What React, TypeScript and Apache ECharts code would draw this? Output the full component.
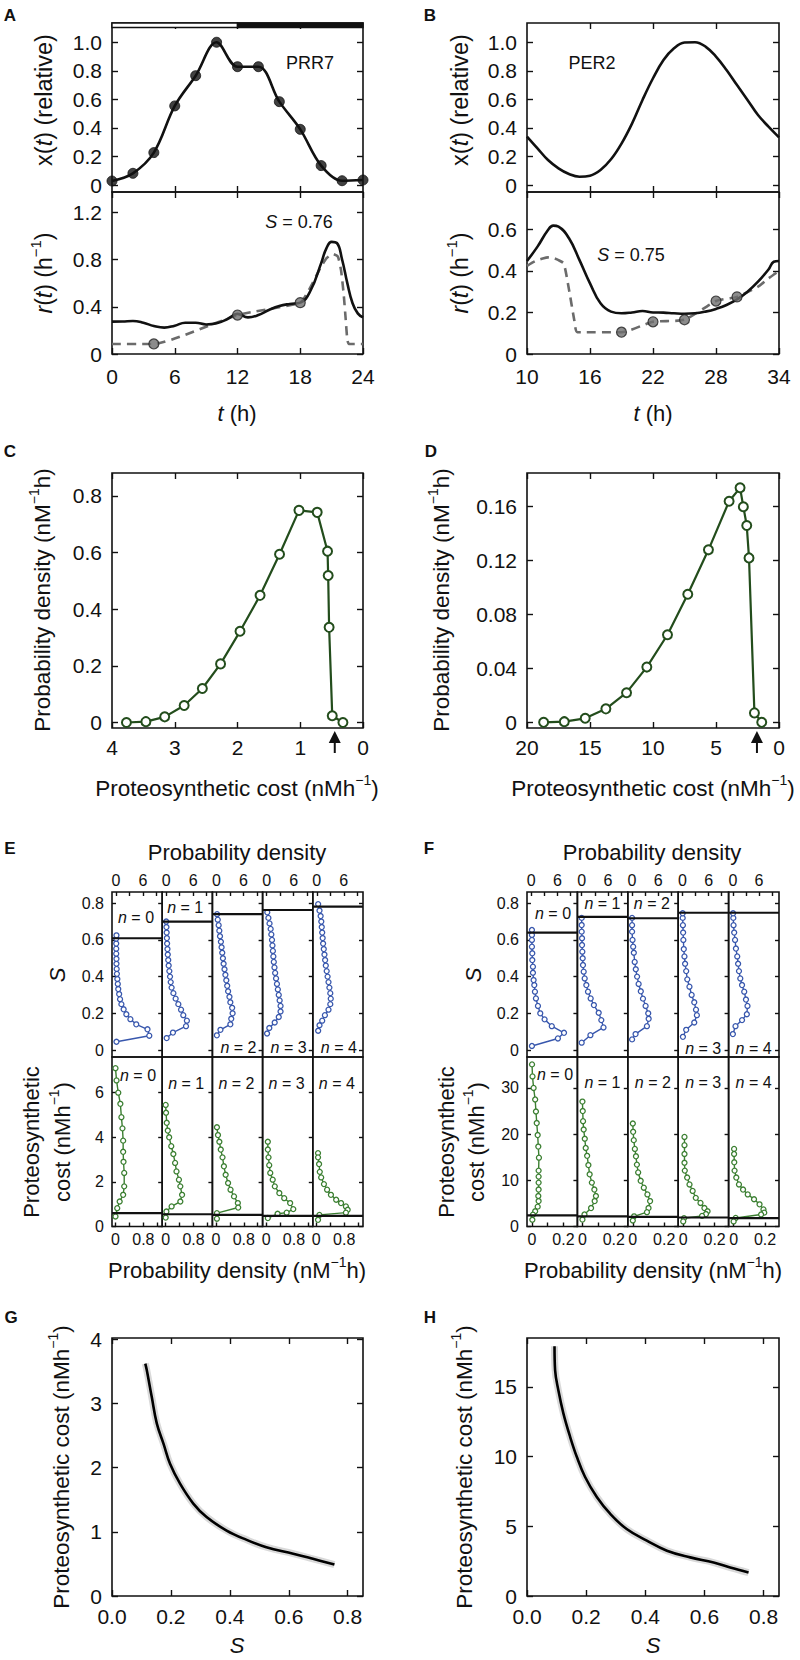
import React, { useEffect, useRef } from "react";
import * as echarts from "echarts";

const FONT = "'Liberation Sans', Arial, Helvetica, sans-serif";

// ---------------- Panel A : PRR7 ----------------
const prr7Hours = [0, 2, 4, 6, 8, 10, 12, 14, 16, 18, 20, 22, 24];
const prr7Level = [0.028, 0.082, 0.227, 0.554, 0.766, 1.0, 0.829, 0.829, 0.584, 0.39, 0.136, 0.03, 0.035];
const prr7RateHours = [0, 1, 2, 3, 4, 5, 6, 7, 8, 9, 10, 11, 12, 13, 14, 15, 16, 17, 18, 19, 20, 20.5, 21, 21.5, 22, 22.5, 23, 23.5, 24];
const prr7Rate = [0.274, 0.275, 0.28, 0.265, 0.237, 0.223, 0.24, 0.265, 0.265, 0.25, 0.26, 0.294, 0.34, 0.31, 0.33, 0.373, 0.407, 0.424, 0.435, 0.54, 0.77, 0.895, 0.95, 0.94, 0.8, 0.6, 0.43, 0.344, 0.31];
const prr7ApproxHours = [0, 4, 12, 18, 19, 19.9, 20.5, 21.1, 21.6, 21.9, 22.15, 22.35, 22.5, 22.65, 24];
const prr7Approx = [0.085, 0.085, 0.33, 0.435, 0.57, 0.726, 0.81, 0.847, 0.825, 0.71, 0.51, 0.29, 0.12, 0.085, 0.085];
const prr7NodeHours = [4, 12, 18];
const prr7NodeRate = [0.085, 0.33, 0.435];
const lightDark = [
  { from: 0, to: 12, dark: false },
  { from: 12, to: 24, dark: true },
];

// ---------------- Panel B : PER2 ----------------
const per2Hours = [10, 11, 12, 13, 14, 15, 16, 17, 18, 19, 20, 21, 22, 23, 24, 25, 26, 27, 28, 29, 30, 31, 32, 33, 34];
const per2Level = [0.339, 0.257, 0.175, 0.117, 0.077, 0.058, 0.065, 0.105, 0.18, 0.29, 0.43, 0.596, 0.748, 0.876, 0.958, 0.998, 1.0, 0.97, 0.9, 0.806, 0.7, 0.596, 0.49, 0.409, 0.334];
const per2RateHours = [10, 11, 12, 12.5, 13, 14, 15, 16, 17, 18, 19, 20, 21, 22, 23, 24, 25, 26, 27, 28, 29, 30, 31, 32, 33, 33.5, 34];
const per2Rate = [0.448, 0.517, 0.597, 0.618, 0.613, 0.557, 0.452, 0.34, 0.244, 0.204, 0.196, 0.2, 0.207, 0.2, 0.199, 0.196, 0.194, 0.196, 0.204, 0.217, 0.236, 0.263, 0.3, 0.348, 0.407, 0.444, 0.448];
const per2ApproxHours = [10, 10.5, 11, 11.5, 12, 12.5, 13, 13.5, 14, 14.5, 14.8, 19, 22, 25, 28, 30, 32, 33, 34];
const per2Approx = [0.424, 0.44, 0.452, 0.46, 0.465, 0.462, 0.452, 0.436, 0.31, 0.164, 0.105, 0.105, 0.155, 0.165, 0.255, 0.275, 0.324, 0.364, 0.4];
const per2NodeHours = [19, 22, 25, 28, 30];
const per2NodeRate = [0.105, 0.155, 0.165, 0.255, 0.275];

// ---------------- Panels C, D : cost distributions ----------------
const prr7Cost = [3.77, 3.46, 3.16, 2.85, 2.56, 2.27, 1.96, 1.64, 1.33, 1.02, 0.73, 0.565, 0.555, 0.54, 0.49, 0.32];
const prr7CostDensity = [0, 0.003, 0.02, 0.06, 0.12, 0.207, 0.322, 0.449, 0.594, 0.749, 0.742, 0.605, 0.519, 0.336, 0.024, 0];
const prr7OptimalCost = 0.45;
const per2Cost = [18.68, 17.04, 15.38, 13.74, 12.1, 10.49, 8.85, 7.24, 5.6, 3.96, 3.09, 2.83, 2.56, 2.38, 1.95, 1.37];
const per2CostDensity = [0, 0.0005, 0.003, 0.01, 0.022, 0.041, 0.065, 0.095, 0.128, 0.164, 0.174, 0.16, 0.146, 0.122, 0.007, 0];
const per2OptimalCost = 1.75;

// ---------------- Panel E : PRR7, n = 0..4 ([S, density]) ----------------
const eTopN0 = [[0.045, 0.1], [0.078, 7.4], [0.113, 7.0], [0.14, 4.5], [0.168, 3.2], [0.195, 2.3], [0.222, 1.7], [0.25, 1.2], [0.277, 0.9], [0.305, 0.7], [0.332, 0.5], [0.36, 0.4], [0.387, 0.3], [0.415, 0.2], [0.442, 0.15], [0.47, 0.1], [0.497, 0.1], [0.525, 0.05], [0.552, 0.05], [0.58, 0.05], [0.607, 0.05], [0.625, 0.1]];
const eTopN1 = [[0.065, 0.1], [0.095, 1.5], [0.13, 4.4], [0.16, 4.6], [0.19, 3.8], [0.22, 3.3], [0.25, 2.7], [0.28, 2.1], [0.31, 1.6], [0.34, 1.2], [0.37, 1.0], [0.4, 0.85], [0.43, 0.7], [0.46, 0.55], [0.49, 0.45], [0.52, 0.35], [0.55, 0.28], [0.58, 0.2], [0.61, 0.15], [0.64, 0.1], [0.67, 0.05], [0.7, 0.0]];
const eTopN2 = [[0.08, 0.1], [0.11, 0.9], [0.14, 3.1], [0.17, 3.3], [0.2, 3.6], [0.23, 3.5], [0.26, 3.1], [0.29, 2.9], [0.32, 2.6], [0.35, 2.4], [0.38, 2.2], [0.41, 2.0], [0.44, 1.8], [0.47, 1.6], [0.5, 1.45], [0.53, 1.3], [0.56, 1.15], [0.59, 1.0], [0.62, 0.8], [0.65, 0.65], [0.68, 0.5], [0.71, 0.3], [0.74, 0.15]];
const eTopN3 = [[0.09, 0.1], [0.12, 0.6], [0.15, 1.8], [0.18, 2.7], [0.21, 3.1], [0.24, 3.1], [0.27, 2.9], [0.3, 2.7], [0.33, 2.5], [0.36, 2.3], [0.39, 2.1], [0.42, 1.9], [0.45, 1.75], [0.48, 1.6], [0.51, 1.5], [0.54, 1.4], [0.57, 1.3], [0.6, 1.2], [0.63, 1.05], [0.66, 0.9], [0.69, 0.65], [0.72, 0.4], [0.75, 0.15]];
const eTopN4 = [[0.105, 0.3], [0.135, 0.6], [0.16, 1.2], [0.19, 1.8], [0.22, 2.6], [0.25, 3.0], [0.28, 3.1], [0.31, 3.0], [0.34, 2.8], [0.37, 2.6], [0.4, 2.4], [0.43, 2.2], [0.46, 2.0], [0.49, 1.85], [0.52, 1.7], [0.55, 1.55], [0.58, 1.4], [0.61, 1.3], [0.64, 1.2], [0.67, 1.1], [0.7, 1.0], [0.73, 0.85], [0.76, 0.6], [0.795, 0.3]];
const eTopThreshold = [0.609, 0.7, 0.74, 0.763, 0.781];
// [cost, density]
const eBotN0 = [[7.1, 0], [6.55, 0.03], [6.0, 0.08], [5.5, 0.14], [4.9, 0.17], [4.4, 0.2], [3.85, 0.22], [3.35, 0.22], [2.9, 0.23], [2.4, 0.25], [1.8, 0.25], [1.42, 0.22], [1.12, 0.12], [0.82, 0.05], [0.45, 0.0]];
const eBotN1 = [[5.45, 0], [5.1, 0.01], [4.65, 0.03], [4.3, 0.06], [4.0, 0.1], [3.6, 0.16], [3.25, 0.22], [2.85, 0.27], [2.47, 0.31], [2.1, 0.38], [1.8, 0.42], [1.42, 0.47], [1.12, 0.42], [0.9, 0.17], [0.67, 0.02], [0.4, 0]];
const eBotN2 = [[4.45, 0.03], [4.1, 0.06], [3.8, 0.1], [3.45, 0.14], [3.1, 0.19], [2.7, 0.23], [2.32, 0.28], [1.95, 0.35], [1.65, 0.42], [1.35, 0.52], [1.05, 0.63], [0.85, 0.64], [0.6, 0.03], [0.35, 0.03]];
const eBotN3 = [[3.8, 0.05], [3.45, 0.05], [3.1, 0.07], [2.75, 0.09], [2.4, 0.12], [2.1, 0.19], [1.8, 0.25], [1.5, 0.38], [1.27, 0.52], [1.05, 0.69], [0.78, 0.78], [0.62, 0.59], [0.57, 0.33], [0.38, 0.05]];
const eBotN4 = [[3.29, 0.05], [3.1, 0.05], [2.8, 0.08], [2.45, 0.1], [2.2, 0.14], [1.9, 0.22], [1.65, 0.31], [1.42, 0.42], [1.2, 0.57], [1.05, 0.71], [0.9, 0.85], [0.75, 0.9], [0.62, 0.85], [0.52, 0.09], [0.3, 0.05]];
const eBotThreshold = [0.6, 0.55, 0.52, 0.48, 0.48];

// ---------------- Panel F : PER2, n = 0..4 ----------------
const fTopN0 = [[0.022, 0.15], [0.063, 6.1], [0.094, 7.5], [0.13, 4.7], [0.167, 3.05], [0.2, 2.06], [0.24, 1.53], [0.281, 1.07], [0.318, 0.84], [0.354, 0.69], [0.381, 0.53], [0.421, 0.38], [0.454, 0.38], [0.49, 0.23], [0.527, 0.23], [0.563, 0.15], [0.6, 0.15], [0.627, 0.15], [0.654, 0.15]];
const fTopN1 = [[0.04, 0], [0.081, 2.0], [0.123, 5.0], [0.163, 4.5], [0.203, 3.9], [0.245, 2.8], [0.281, 2.06], [0.318, 1.45], [0.354, 1.07], [0.39, 0.69], [0.427, 0.46], [0.463, 0.3], [0.5, 0.23], [0.536, 0.15], [0.572, 0.08], [0.609, 0.08], [0.645, 0.0], [0.681, 0.0], [0.72, 0.0]];
const fTopN2 = [[0.058, 0], [0.087, 0.8], [0.13, 3.4], [0.17, 3.8], [0.2, 3.7], [0.24, 3.1], [0.28, 2.5], [0.32, 2.0], [0.36, 1.5], [0.4, 1.15], [0.44, 0.85], [0.48, 0.6], [0.53, 0.4], [0.563, 0.25], [0.6, 0.1], [0.645, 0.0], [0.68, 0.0], [0.72, 0.0]];
const fTopN3 = [[0.072, 0.1], [0.11, 0.85], [0.15, 2.7], [0.19, 3.3], [0.22, 3.1], [0.26, 2.7], [0.3, 2.1], [0.345, 1.6], [0.385, 1.1], [0.43, 0.85], [0.47, 0.6], [0.51, 0.45], [0.55, 0.3], [0.6, 0.2], [0.64, 0.15], [0.68, 0.1], [0.72, 0.05], [0.745, 0.05]];
const fTopN4 = [[0.087, 0], [0.13, 0.6], [0.163, 2.1], [0.195, 3.2], [0.24, 3.35], [0.275, 3.0], [0.318, 2.6], [0.354, 2.1], [0.39, 1.7], [0.43, 1.4], [0.47, 1.2], [0.51, 1.0], [0.553, 0.7], [0.6, 0.5], [0.64, 0.3], [0.68, 0.15], [0.72, 0.1], [0.745, 0.05]];
const fTopThreshold = [0.64, 0.726, 0.718, 0.748, 0.748];
const fBotN0 = [[35.1, 0], [32.5, 0.003], [30, 0.01], [27.5, 0.02], [24.9, 0.025], [22.4, 0.03], [19.8, 0.036], [17.3, 0.04], [14.9, 0.044], [12.1, 0.042], [10.8, 0.042], [9.5, 0.042], [8.0, 0.042], [6.6, 0.04], [5.5, 0.042], [4.3, 0.036], [3.3, 0.02], [2.57, 0.006], [1.46, 0.002]];
const fBotN1 = [[27.05, 0], [25, 0.002], [22.8, 0.004], [21, 0.008], [19, 0.015], [17, 0.021], [15.3, 0.03], [13.3, 0.038], [11.3, 0.046], [9.5, 0.06], [8.0, 0.076], [6.6, 0.086], [5.5, 0.078], [4.0, 0.055], [2.6, 0.013], [1.5, 0]];
const fBotN2 = [[22.3, 0], [20.5, 0.002], [18.7, 0.006], [16.8, 0.013], [15.2, 0.02], [13.4, 0.026], [11.7, 0.034], [9.9, 0.05], [8.4, 0.07], [6.95, 0.093], [5.5, 0.11], [4.0, 0.1], [3.1, 0.09], [2.2, 0.008], [1.3, 0]];
const fBotN3 = [[19.4, 0.008], [17.6, 0.008], [15.7, 0.008], [13.8, 0.008], [12.1, 0.01], [10.6, 0.025], [9.1, 0.04], [7.7, 0.06], [6.2, 0.08], [5.1, 0.11], [4.0, 0.135], [3.3, 0.155], [2.7, 0.145], [2.3, 0.12], [1.8, 0.005], [1.1, 0]];
const fBotN4 = [[16.8, 0.003], [15.7, 0.003], [13.9, 0.004], [12.1, 0.006], [10.6, 0.017], [9.1, 0.034], [8.0, 0.06], [6.95, 0.09], [5.9, 0.13], [4.8, 0.165], [3.7, 0.19], [3.0, 0.195], [2.6, 0.175], [1.85, 0.013], [1.1, 0]];
const fBotThreshold = [2.4, 2.2, 2.1, 1.95, 1.8];

// ---------------- Panels G, H : cost vs S ----------------
const gS = [0.113, 0.118, 0.135, 0.152, 0.175, 0.197, 0.231, 0.276, 0.321, 0.389, 0.457, 0.524, 0.615, 0.682, 0.755];
const gCost = [3.62, 3.52, 3.1, 2.69, 2.37, 2.06, 1.75, 1.44, 1.23, 1.02, 0.875, 0.76, 0.66, 0.58, 0.49];
const hS = [0.093, 0.095, 0.106, 0.123, 0.146, 0.168, 0.196, 0.236, 0.281, 0.337, 0.405, 0.473, 0.552, 0.631, 0.687, 0.749];
const hCost = [17.9, 16.2, 14.75, 13.1, 11.4, 10.0, 8.55, 7.1, 5.9, 4.8, 3.97, 3.25, 2.77, 2.4, 2.04, 1.68];

// ---------------- helpers ----------------
const zip = (a: number[], b: number[]) => a.map((v, i) => [v, b[i]]);
const swap = (arr: number[][]) => arr.map(([a, b]) => [b, a]);
const fmtPlain = (v: number) => (Math.abs(v) < 1e-9 ? "0" : String(v));
const fmt1 = (v: number) => (Math.abs(v) < 1e-9 ? "0" : v.toFixed(1));
const fmt2 = (v: number) => (Math.abs(v) < 1e-9 ? "0" : v.toFixed(2));

const INK = "#111";
const BLUE = "#3857ad";
const GREEN_E = "#3b7f31";
const GREEN_C = "#234d1c";

type AxisCfg = {
  min: number; max: number; ticks: number[]; labels?: number[];
  fmt?: (v: number) => string; inverse?: boolean; size?: number; margin?: number;
  labelSide?: string; tickA?: boolean; tickB?: boolean; tickLen?: number;
};

function buildOption() {
  const grid: any[] = [];
  const xAxis: any[] = [];
  const yAxis: any[] = [];
  const series: any[] = [];

  const mkAxis = (g: number, position: string, c: AxisCfg, showLabel: boolean, showTick: boolean) => ({
    type: "value", gridIndex: g, position, min: c.min, max: c.max, inverse: !!c.inverse,
    axisLine: { show: false, onZero: false }, splitLine: { show: false }, axisPointer: { show: false },
    axisTick: { show: showTick && c.ticks.length > 0, inside: true, length: c.tickLen ?? 6, customValues: c.ticks, lineStyle: { color: INK, width: 1.4 } },
    axisLabel: { show: showLabel, customValues: c.labels ?? c.ticks, formatter: c.fmt ?? fmtPlain, fontSize: c.size ?? 21, fontFamily: FONT, color: INK, margin: c.margin ?? 10 },
  });

  const panel = (rect: number[], xc: AxisCfg, yc: AxisCfg) => {
    const g = grid.length;
    grid.push({ left: rect[0], top: rect[1], width: rect[2], height: rect[3], show: true, borderColor: INK, borderWidth: 1.6, backgroundColor: "rgba(0,0,0,0)", containLabel: false, outerBoundsMode: "none" });
    const xi = xAxis.length;
    xAxis.push(mkAxis(g, "bottom", xc, xc.labelSide === "bottom", xc.tickA !== false));
    xAxis.push(mkAxis(g, "top", xc, xc.labelSide === "top", xc.tickB !== false));
    const yi = yAxis.length;
    yAxis.push(mkAxis(g, "left", yc, yc.labelSide === "left", yc.tickA !== false));
    yAxis.push(mkAxis(g, "right", yc, false, yc.tickB !== false));
    return { g, xi, yi, xc, yc };
  };

  const line = (p: any, data: number[][], o: any = {}) =>
    series.push({
      type: "line", xAxisIndex: p.xi, yAxisIndex: p.yi, data, smooth: o.smooth ?? false,
      showSymbol: !!o.symbol, symbol: o.symbol ? "circle" : "none", symbolSize: o.symbolSize ?? 6,
      itemStyle: o.itemStyle, lineStyle: { color: o.color ?? INK, width: o.width ?? 2.4, type: o.dash ?? "solid" },
      z: o.z ?? 2, silent: true, animation: false,
    });
  const dots = (p: any, data: number[][], o: any) =>
    series.push({
      type: "scatter", xAxisIndex: p.xi, yAxisIndex: p.yi, data, symbol: "circle", symbolSize: o.size,
      itemStyle: { color: o.fill, borderColor: o.stroke, borderWidth: o.bw ?? 1 }, z: 5, silent: true, animation: false,
    });

  const topX = { min: -0.049, max: 1.135, ticks: [0, 0.2, 0.4, 0.6, 0.8, 1.0], labelSide: "left", fmt: fmt1 };
  // A
  const A1 = panel([112, 23, 251, 169], { min: 0, max: 24, ticks: [6, 12, 18] }, topX);
  const A2 = panel([112, 192, 251, 162], { min: 0, max: 24, ticks: [0, 6, 12, 18, 24], labelSide: "bottom", margin: 12 }, { min: 0, max: 1.372, ticks: [0, 0.4, 0.8, 1.2], labelSide: "left", fmt: fmt1 });
  line(A1, zip(prr7Hours, prr7Level), { smooth: 0.35, width: 2.6 });
  dots(A1, zip(prr7Hours, prr7Level), { size: 10, fill: INK, stroke: INK });
  line(A2, zip(prr7ApproxHours, prr7Approx), { color: "#6b6b6b", dash: [9, 6], width: 2.6, smooth: 0.15 });
  line(A2, zip(prr7RateHours, prr7Rate), { smooth: 0.45, width: 2.6, z: 3 });
  dots(A2, zip(prr7NodeHours, prr7NodeRate), { size: 10, fill: "#6f6f6f", stroke: "#222", bw: 1.2 });
  // B
  const B1 = panel([527, 23, 252, 169], { min: 10, max: 34, ticks: [16, 22, 28] }, topX);
  const B2 = panel([527, 192, 252, 162], { min: 10, max: 34, ticks: [10, 16, 22, 28, 34], labelSide: "bottom", margin: 12 }, { min: 0, max: 0.78, ticks: [0, 0.2, 0.4, 0.6], labelSide: "left", fmt: fmt1 });
  line(B1, zip(per2Hours, per2Level), { smooth: 0.4, width: 2.6 });
  line(B2, zip(per2ApproxHours, per2Approx), { color: "#6b6b6b", dash: [9, 6], width: 2.6, smooth: 0.2 });
  line(B2, zip(per2RateHours, per2Rate), { smooth: 0.45, width: 2.6, z: 3 });
  dots(B2, zip(per2NodeHours, per2NodeRate), { size: 10, fill: "#6f6f6f", stroke: "#222", bw: 1.2 });
  // C, D
  const C = panel([112, 473, 251, 255], { min: 0, max: 4, inverse: true, ticks: [0, 1, 2, 3, 4], labelSide: "bottom", margin: 9 }, { min: -0.0194, max: 0.881, ticks: [0, 0.2, 0.4, 0.6, 0.8], labelSide: "left", fmt: fmt1 });
  const D = panel([527, 473, 252, 255], { min: 0, max: 20, inverse: true, ticks: [0, 5, 10, 15, 20], labelSide: "bottom", margin: 9 }, { min: -0.0042, max: 0.185, ticks: [0, 0.04, 0.08, 0.12, 0.16], labelSide: "left", fmt: fmt2 });
  const openGreen = { color: "#fff", borderColor: GREEN_C, borderWidth: 2 };
  line(C, zip(prr7Cost, prr7CostDensity), { color: GREEN_C, width: 2.2, symbol: true, symbolSize: 9, itemStyle: openGreen });
  line(D, zip(per2Cost, per2CostDensity), { color: GREEN_C, width: 2.2, symbol: true, symbolSize: 9, itemStyle: openGreen });

  // E, F small multiples
  const smallSets = [
    { left0: 112, w: 50.2, top: [eTopN0, eTopN1, eTopN2, eTopN3, eTopN4], bot: [eBotN0, eBotN1, eBotN2, eBotN3, eBotN4], thrTop: eTopThreshold, thrBot: eBotThreshold,
      xTop: { min: -0.89, max: 10.27, ticks: [0, 3, 6, 9], labels: [0, 6] }, xBot: { min: -0.1, max: 1.34, ticks: [0, 0.4, 0.8, 1.2], labels: [0, 0.8] }, yBot: { min: 0, max: 7.6, ticks: [0, 2, 4, 6] } },
    { left0: 527, w: 50.4, top: [fTopN0, fTopN1, fTopN2, fTopN3, fTopN4], bot: [fBotN0, fBotN1, fBotN2, fBotN3, fBotN4], thrTop: fTopThreshold, thrBot: fBotThreshold,
      xTop: { min: -0.98, max: 10.57, ticks: [0, 3, 6, 9], labels: [0, 6] }, xBot: { min: -0.032, max: 0.289, ticks: [0, 0.1, 0.2], labels: [0, 0.2] }, yBot: { min: 0, max: 36.7, ticks: [0, 10, 20, 30] } },
  ];
  const smallRefs: any[] = [];
  smallSets.forEach((set) => {
    const refs: any = { top: [], bot: [] };
    for (let i = 0; i < 5; i++) {
      const left = set.left0 + i * set.w;
      const pt = panel([left, 892, set.w, 165],
        { ...set.xTop, labelSide: "top", size: 16, margin: 4, tickA: false, tickLen: 4 },
        { min: -0.038, max: 0.861, ticks: [0, 0.2, 0.4, 0.6, 0.8], labelSide: i === 0 ? "left" : "none", fmt: fmt1, size: 16, margin: 8, tickA: i === 0, tickLen: 4 });
      const pb = panel([left, 1057, set.w, 169.5],
        { ...set.xBot, labelSide: "bottom", size: 16, margin: 5, tickB: false, tickLen: 4 },
        { ...set.yBot, labelSide: i === 0 ? "left" : "none", size: 16, margin: 8, tickA: i === 0, tickLen: 4 });
      refs.top.push(pt); refs.bot.push(pb);
      line(pt, swap(set.top[i]), { color: BLUE, width: 1.4, symbol: true, symbolSize: 5, itemStyle: { color: "#fff", borderColor: BLUE, borderWidth: 1.3 } });
      line(pb, swap(set.bot[i]), { color: GREEN_E, width: 1.4, symbol: true, symbolSize: 5, itemStyle: { color: "#fff", borderColor: GREEN_E, borderWidth: 1.3 } });
      line(pt, [[set.xTop.min, set.thrTop[i]], [set.xTop.max, set.thrTop[i]]], { width: 2.2, z: 4 });
      line(pb, [[set.xBot.min, set.thrBot[i]], [set.xBot.max, set.thrBot[i]]], { width: 2.2, z: 4 });
    }
    smallRefs.push(refs);
  });

  // G, H
  const sx = { min: 0, max: 0.852, ticks: [0, 0.2, 0.4, 0.6, 0.8], labelSide: "bottom", fmt: (v: number) => v.toFixed(1), margin: 10 };
  const G = panel([112, 1338, 251, 258], sx, { min: 0, max: 4.02, ticks: [0, 1, 2, 3, 4], labelSide: "left" });
  const H = panel([527, 1338, 252, 258], sx, { min: 0, max: 18.5, ticks: [0, 5, 10, 15], labelSide: "left" });
  line(G, zip(gS, gCost), { color: "rgba(0,0,0,0.15)", width: 7, smooth: 0.4 });
  line(G, zip(gS, gCost), { color: "#000", width: 2.6, smooth: 0.4, z: 3 });
  line(H, zip(hS, hCost), { color: "rgba(0,0,0,0.15)", width: 7, smooth: 0.4 });
  line(H, zip(hS, hCost), { color: "#000", width: 2.6, smooth: 0.4, z: 3 });

  const option = { animation: false, grid, xAxis, yAxis, series, backgroundColor: "#fff" };
  return { option, refs: { A1, A2, B1, B2, C, D, G, H, small: smallRefs } };
}

const rich = (size: number) => ({
  a: { fontSize: size, fontFamily: FONT, fill: INK, lineHeight: Math.round(size * 1.4) },
  i: { fontSize: size, fontFamily: FONT, fontStyle: "italic", fill: INK, lineHeight: Math.round(size * 1.4) },
  s: { fontSize: Math.round(size * 0.64), fontFamily: FONT, fill: INK, verticalAlign: "top", lineHeight: Math.round(size * 0.72) },
});

function buildGraphics(chart: any, refs: any) {
  const g: any[] = [];
  const T = (x: number, y: number, text: string, size: number, rot = 0, bold = false) =>
    g.push({
      type: "text", x, y, rotation: rot, z: 50, silent: true,
      style: { text, fontSize: size, fontFamily: FONT, fontWeight: bold ? "bold" : "normal", fill: INK, align: "center", verticalAlign: "middle", rich: rich(size) },
    });
  const R = Math.PI / 2;
  // panel letters
  [["A", 10, 15], ["B", 430, 15], ["C", 10, 451], ["D", 431, 451], ["E", 10, 848], ["F", 429, 848], ["G", 11, 1317], ["H", 430, 1317]].forEach(([t, x, y]) => T(x as number, y as number, t as string, 17, 0, true));
  // A / B labels
  T(44, 100, "{a|x(}{i|t}{a|) (relative)}", 23.5, R);
  T(44, 273, "{i|r}{a|(}{i|t}{a|) (h}{s|−1}{a|)}", 23, R);
  T(460, 100, "{a|x(}{i|t}{a|) (relative)}", 23.5, R);
  T(460, 273, "{i|r}{a|(}{i|t}{a|) (h}{s|−1}{a|)}", 23, R);
  T(237, 413, "{i|t}{a| (h)}", 22);
  T(653, 413, "{i|t}{a| (h)}", 22);
  T(310, 63, "{a|PRR7}", 18);
  T(299, 222, "{i|S}{a| = 0.76}", 18);
  T(592, 63, "{a|PER2}", 18);
  T(631, 255, "{i|S}{a| = 0.75}", 18);
  // C / D
  T(42, 600, "{a|Probability density (nM}{s|−1}{a|h)}", 22.5, R);
  T(441, 600, "{a|Probability density (nM}{s|−1}{a|h)}", 22.5, R);
  T(237, 788, "{a|Proteosynthetic cost (nMh}{s|−1}{a|)}", 22.5);
  T(653, 788, "{a|Proteosynthetic cost (nMh}{s|−1}{a|)}", 22.5);
  // E / F
  T(237, 852, "{a|Probability density}", 22);
  T(652, 852, "{a|Probability density}", 22);
  T(237, 1270, "{a|Probability density (nM}{s|−1}{a|h)}", 22);
  T(653, 1270, "{a|Probability density (nM}{s|−1}{a|h)}", 22);
  T(57, 975, "{i|S}", 22, R);
  T(473, 975, "{i|S}", 22, R);
  T(31, 1142, "{a|Proteosynthetic}", 22, R);
  T(62, 1142, "{a|cost (nMh}{s|−1}{a|)}", 22, R);
  T(446, 1142, "{a|Proteosynthetic}", 22, R);
  T(476, 1142, "{a|cost (nMh}{s|−1}{a|)}", 22, R);
  const nTopPos = [[[24, 917], [23, 907], [26, 1047], [26, 1047], [26, 1047]], [[26, 913], [25, 903], [24, 903], [25, 1048], [25, 1048]]];
  const nBotPos = [[[26, 1075], [24, 1083], [24, 1083], [24, 1083], [24, 1083]], [[28, 1074], [25, 1082], [25, 1082], [25, 1082], [25, 1082]]];
  const lefts = [112, 527];
  const widths = [50.2, 50.4];
  for (let s = 0; s < 2; s++) {
    for (let i = 0; i < 5; i++) {
      const l = lefts[s] + i * widths[s];
      T(l + nTopPos[s][i][0], nTopPos[s][i][1], `{i|n}{a| = ${i}}`, 16);
      T(l + nBotPos[s][i][0], nBotPos[s][i][1], `{i|n}{a| = ${i}}`, 16);
    }
  }
  // G / H
  T(61, 1467, "{a|Proteosynthetic cost (nMh}{s|−1}{a|)}", 22.5, R);
  T(464, 1467, "{a|Proteosynthetic cost (nMh}{s|−1}{a|)}", 22.5, R);
  T(237, 1645, "{i|S}", 22);
  T(653, 1645, "{i|S}", 22);

  // light/dark bar on panel A
  lightDark.forEach((seg) => {
    const x0 = chart.convertToPixel({ gridIndex: refs.A1.g }, [seg.from, 0])[0];
    const x1 = chart.convertToPixel({ gridIndex: refs.A1.g }, [seg.to, 0])[0];
    g.push({ type: "rect", z: 60, silent: true, shape: { x: x0, y: 23, width: x1 - x0, height: 4.5 }, style: { fill: seg.dark ? INK : "#fff", stroke: INK, lineWidth: 1.4 } });
  });
  // arrows marking the optimal cost
  [[refs.C.g, prr7OptimalCost], [refs.D.g, per2OptimalCost]].forEach(([gi, v]) => {
    const px = chart.convertToPixel({ gridIndex: gi }, [v, 0])[0];
    g.push({ type: "polygon", z: 60, silent: true, shape: { points: [[px - 6, 743], [px + 6, 743], [px, 731]] }, style: { fill: INK } });
    g.push({ type: "line", z: 60, silent: true, shape: { x1: px, y1: 742, x2: px, y2: 753 }, style: { stroke: INK, lineWidth: 2 } });
  });
  return g;
}

export default function App() {
  const ref = useRef<HTMLDivElement>(null);
  useEffect(() => {
    document.body.style.margin = "0";
    const chart = echarts.init(ref.current!, null, { renderer: "svg" });
    const { option, refs } = buildOption();
    chart.setOption(option as any);
    chart.setOption({ graphic: buildGraphics(chart, refs) } as any);
    return () => chart.dispose();
  }, []);
  return <div ref={ref} style={{ width: 800, height: 1660, background: "#fff" }} />;
}
